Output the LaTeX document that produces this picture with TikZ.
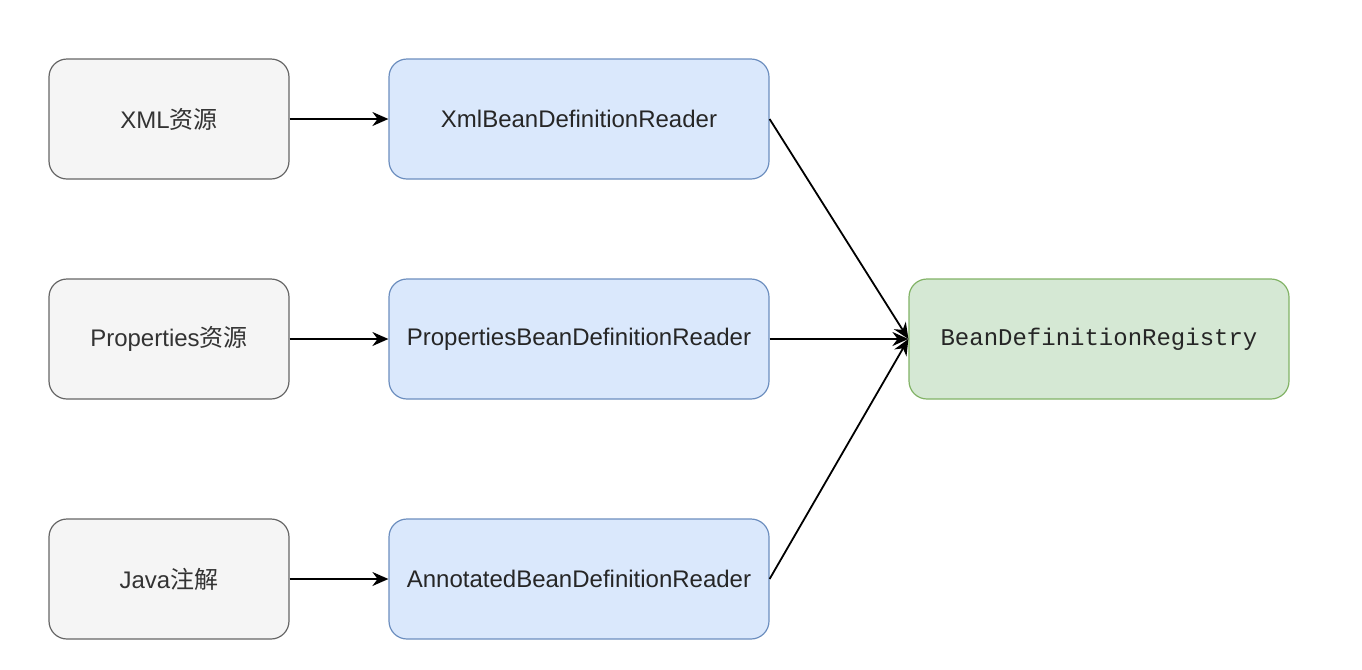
\documentclass[tikz,border=0pt]{standalone}
\usepackage{fontspec}
\setmainfont{Liberation Sans}
\setmonofont{Liberation Mono}
\newfontfamily\cjk{Noto Sans CJK SC}
\usetikzlibrary{arrows.meta}
\definecolor{srcfill}{HTML}{F5F5F5}
\definecolor{srcline}{HTML}{666666}
\definecolor{srctext}{HTML}{333333}
\definecolor{readfill}{HTML}{DAE8FC}
\definecolor{readline}{HTML}{6C8EBF}
\definecolor{regfill}{HTML}{D5E8D4}
\definecolor{regline}{HTML}{82B366}
\tikzset{
	box/.style={rectangle, rounded corners=9pt, line width=0.6pt,
		minimum height=60pt, inner sep=0pt,
		font=\fontsize{12}{14}\selectfont},
	source/.style={box, minimum width=120pt, draw=srcline, fill=srcfill, text=srctext},
	reader/.style={box, minimum width=190pt, draw=readline, fill=readfill, text=black!85},
	registry/.style={box, minimum width=190pt, draw=regline, fill=regfill, text=black!85,
		font=\fontsize{12}{14}\selectfont\ttfamily},
	flow/.style={line width=0.9pt, -{Stealth[length=8pt,width=7pt]}}
}

\begin{document}
\begin{tikzpicture}[x=0.5pt,y=-0.5pt]
		\useasboundingbox[fill=white] (0,0) rectangle (1362,670);
		% sources on the left
		\node[source] (xml) at (169,119) {XML{\cjk 资源}};
		\node[source] (props) at (169,339) {Properties{\cjk 资源}};
		\node[source] (java) at (169,579) {Java{\cjk 注解}};

		% readers in the middle
		\node[reader] (xmlreader) at (579,119) {XmlBeanDefinitionReader};
		\node[reader] (propsreader) at (579,339) {PropertiesBeanDefinitionReader};
		\node[reader] (annreader) at (579,579) {AnnotatedBeanDefinitionReader};

		% registry on the right
		\node[registry] (registry) at (1099,339) {BeanDefinitionRegistry};

		% -----------------------------------------------------
		\draw[flow] (xml) -- (xmlreader);
		\draw[flow] (props) -- (propsreader);
		\draw[flow] (java) -- (annreader);

		\draw[flow] (xmlreader.east) -- (registry.west);
		\draw[flow] (propsreader.east) -- (registry.west);
		\draw[flow] (annreader.east) -- (registry.west);
\end{tikzpicture}
\end{document}
